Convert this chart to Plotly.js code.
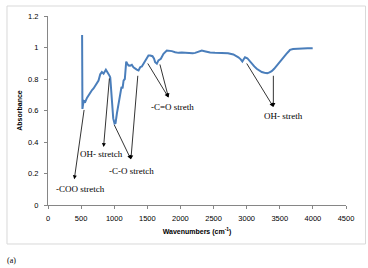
<!DOCTYPE html>
<html><head><meta charset="utf-8">
<script src="https://cdn.plot.ly/plotly-3.0.1.min.js"></script>
<style>html,body{margin:0;padding:0;background:#fff;}#chart{width:368px;height:268px;}</style>
</head><body><div id="chart"></div>
<script>
// Wavenumbers (cm-1)
const wavenumber = [515,520,530,545,563,588,615,638,665,688,713,739,763,789,814,839,857,874,895,914,930,940,955,970,985,1005,1020,1040,1065,1090,1110,1126,1141,1160,1181,1200,1216,1240,1266,1290,1317,1340,1367,1392,1417,1440,1468,1490,1517,1543,1578,1600,1618,1644,1668,1704,1744,1794,1830,1870,1920,1970,2020,2071,2110,2146,2185,2222,2270,2322,2380,2448,2520,2599,2649,2720,2799,2840,2875,2910,2935,2955,2975,3010,3040,3077,3115,3152,3190,3228,3270,3312,3345,3378,3415,3454,3500,3554,3600,3640,3654,3700,3750,3805,3860,3920,3997];
// Absorbance
const absorbance = [1.08,0.61,0.64,0.66,0.655,0.68,0.70,0.717,0.73,0.74,0.76,0.775,0.79,0.83,0.844,0.834,0.845,0.859,0.845,0.834,0.82,0.81,0.70,0.60,0.55,0.517,0.52,0.58,0.65,0.72,0.75,0.74,0.79,0.80,0.91,0.895,0.886,0.885,0.89,0.875,0.865,0.86,0.854,0.875,0.88,0.895,0.918,0.935,0.949,0.949,0.945,0.93,0.907,0.897,0.918,0.928,0.96,0.981,0.98,0.977,0.97,0.966,0.968,0.966,0.964,0.96,0.963,0.966,0.972,0.981,0.975,0.968,0.966,0.964,0.966,0.964,0.956,0.948,0.938,0.925,0.911,0.925,0.938,0.932,0.915,0.897,0.88,0.865,0.853,0.844,0.84,0.837,0.842,0.85,0.865,0.886,0.91,0.938,0.96,0.978,0.985,0.99,0.992,0.992,0.994,0.995,0.996];

// Annotation labels and their anchor points (data units)
const labelTexts = ["-COO stretch","OH- stretch","-C-O stretch","-C=O streth","OH- streth"];
const labelX = [492, 801, 1267, 1875, 3557];
const labelY = [0.10, 0.321, 0.216, 0.621, 0.566];
// Arrows: tail (from spectrum) -> head (toward label)
const arrowTailX = [548, 929, 990, 1358, 1493, 1684, 2987, 3403];
const arrowTailY = [0.613, 0.813, 0.518, 0.83, 0.908, 0.902, 0.908, 0.83];
const arrowHeadX = [397, 839, 1252, 1252, 1819, 1819, 3403, 3403];
const arrowHeadY = [0.163, 0.368, 0.29, 0.29, 0.683, 0.683, 0.623, 0.623];

const serif = "Liberation Serif, Times New Roman, serif";
const sans = "Liberation Sans, Arial, sans-serif";

const annotations = [];
labelTexts.forEach((t,i)=>annotations.push({
  x: labelX[i], y: labelY[i], xref:'x', yref:'y', text:t, showarrow:false,
  font:{family:serif, size:9, color:'#000'}, xanchor:'center', yanchor:'middle'
}));
arrowTailX.forEach((_,i)=>annotations.push({
  x: arrowHeadX[i], y: arrowHeadY[i], ax: arrowTailX[i], ay: arrowTailY[i],
  xref:'x', yref:'y', axref:'x', ayref:'y', text:'', showarrow:true,
  arrowhead:2, arrowsize:1, arrowwidth:0.8, arrowcolor:'#000', standoff:0, startstandoff:0
}));
annotations.push({x:-0.124, y:-0.296, xref:'paper', yref:'paper', text:'(a)', showarrow:false,
  font:{family:serif, size:8, color:'#000'}, xanchor:'center', yanchor:'middle'});

const layout = {
  width:368, height:268,
  margin:{l:48, r:22, t:16, b:63},
  paper_bgcolor:'#fff', plot_bgcolor:'#fff',
  showlegend:false,
  xaxis:{range:[0,4500], dtick:500, tick0:0, showgrid:false, zeroline:false,
    showline:true, linecolor:'#868686', linewidth:1, ticks:'outside', ticklen:3, tickcolor:'#868686',
    ticklabelstandoff:3,
    tickfont:{family:sans, size:7.5, color:'#000'},
    title:{text:'<b>Wavenumbers (cm<sup>-1</sup>)</b>', font:{family:sans, size:7, color:'#000'}, standoff:7}},
  yaxis:{range:[0,1.2], dtick:0.2, tick0:0, showgrid:false, zeroline:false,
    showline:true, linecolor:'#868686', linewidth:1, ticks:'outside', ticklen:3, tickcolor:'#868686',
    ticklabelstandoff:4,
    tickfont:{family:sans, size:7.5, color:'#000'},
    title:{text:'<b>Absorbance</b>', font:{family:sans, size:7, color:'#000'}, standoff:4}},
  shapes:[{type:'rect', xref:'paper', yref:'paper', x0:-0.1376, x1:1.0654, y0:-0.2063, y1:1.0529,
    line:{color:'#d9d9d9', width:1}, fillcolor:'rgba(0,0,0,0)'}],
  annotations: annotations
};

Plotly.newPlot('chart', [{
  x: wavenumber, y: absorbance, type:'scatter', mode:'lines',
  line:{color:'#4a7ebb', width:2}
}], layout, {staticPlot:true, displayModeBar:false});
</script></body></html>
